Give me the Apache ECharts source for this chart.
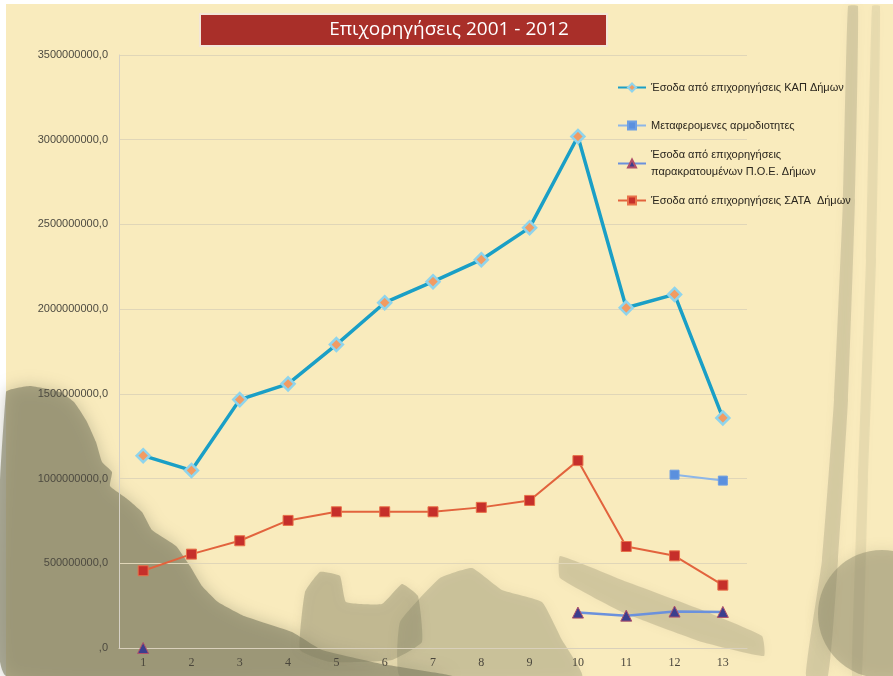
<!DOCTYPE html>
<html>
<head>
<meta charset="utf-8">
<script src="https://cdn.jsdelivr.net/npm/echarts@6/dist/echarts.min.js"></script>
<style>
  html, body { margin: 0; padding: 0; background: #fff; }
  #chart { width: 893px; height: 676px; }
</style>
</head>
<body>
<div id="chart"></div>
<script>
// categories 1..13 (years 2001 - 2012 in the original sheet)
const categories = ['1', '2', '3', '4', '5', '6', '7', '8', '9', '10', '11', '12', '13']

const kapValues = [1135000000, 1048000000, 1466000000, 1559000000, 1791000000, 2038000000, 2162000000,
  2292000000, 2481000000, 3019000000, 2008000000, 2087000000, 1358000000]
const metaferomenesValues = [null, null, null, null, null, null, null, null, null, null, null, 1023000000, 988000000]
const poeValues = [0, null, null, null, null, null, null, null, null, 209000000, 191000000, 215000000, 213000000]
const sataValues = [456000000, 554000000, 633000000, 753000000, 804000000, 804000000, 804000000,
  830000000, 871000000, 1106000000, 599000000, 544000000, 371000000]

const names = [
  'Έσοδα από επιχορηγήσεις ΚΑΠ Δήμων',
  'Μεταφερομενες αρμοδιοτητες',
  'Έσοδα από επιχορηγήσεις παρακρατουμένων Π.Ο.Ε. Δήμων',
  'Έσοδα από επιχορηγήσεις ΣΑΤΑ  Δήμων'
]

const ink = 'rgba(128,126,98,'
// background ink blotches (decoration only)
const blot = (points, a, blur) => ({
  type: 'polygon', silent: true, z: -50,
  shape: { points: points, smooth: 0.12 },
  style: { fill: ink + a + ')', shadowBlur: blur || 10, shadowColor: ink + a + ')' }
})

const legendText = { fontFamily: 'Liberation Sans', fontSize: 11, color: '#29251d' }
const mkLegend = (name, top, extra) => Object.assign({
  data: [name], left: 612, top: top, orient: 'vertical',
  itemWidth: 28, itemHeight: 10, itemGap: 0,
  textStyle: Object.assign({}, legendText)
}, extra || {})

const chart = echarts.init(document.getElementById('chart'))
const option = {
  backgroundColor: '#fff',
  animation: false,
  graphic: [
    { type: 'rect', silent: true, z: -100, shape: { x: 6, y: 4, width: 887, height: 672 }, style: { fill: '#f9ebbd' } },
    blot([[6, 392], [30, 386], [60, 392], [74, 402], [86, 420], [96, 442], [102, 462], [112, 472], [110, 486],
      [126, 498], [142, 512], [152, 530], [176, 546], [190, 566], [202, 586], [218, 602], [244, 616],
      [292, 632], [322, 650], [382, 664], [452, 676], [6, 676]], 0.62, 16),
    blot([[305, 592], [320, 572], [340, 576], [346, 602], [382, 604], [402, 584], [418, 596], [422, 642],
      [392, 660], [330, 662], [300, 650]], 0.38, 10),
    blot([[400, 622], [440, 578], [472, 568], [502, 590], [542, 602], [562, 640], [582, 676], [400, 676]], 0.32, 12),
    blot([[560, 556], [622, 580], [702, 610], [762, 636], [764, 656], [702, 642], [622, 612], [560, 578]], 0.28, 10),
    blot([[848, 6], [858, 6], [855, 200], [848, 400], [838, 560], [828, 676], [806, 676], [822, 560], [834, 400], [843, 200]], 0.26, 8),
    blot([[872, 6], [880, 6], [876, 260], [868, 480], [862, 676], [852, 676], [858, 480], [866, 260]], 0.14, 8),
    { type: 'circle', silent: true, z: -50, shape: { cx: 882, cy: 614, r: 64 },
      style: { fill: ink + '0.42)', shadowBlur: 14, shadowColor: ink + '0.42)' } },
    // title box
    { type: 'rect', z: 10, shape: { x: 200, y: 14, width: 407, height: 32 },
      style: { fill: '#a92f29', stroke: '#f3e6d8', lineWidth: 2 } },
    { type: 'text', z: 11, x: 449, y: 30,
      style: { text: 'Επιχορηγήσεις 2001 - 2012', fill: '#fff', font: '19px "Open Sans"', align: 'center', verticalAlign: 'middle' } }
  ],
  legend: [
    mkLegend(names[0], 77),
    mkLegend(names[1], 115),
    mkLegend(names[2], 133, {
      formatter: () => 'Έσοδα από επιχορηγήσεις\nπαρακρατουμένων Π.Ο.Ε. Δήμων',
      textStyle: Object.assign({}, legendText, { lineHeight: 17, padding: [17, 0, 0, 0] })
    }),
    mkLegend(names[3], 190)
  ],
  grid: { left: 119, right: 146, top: 55, bottom: 28 },
  xAxis: {
    type: 'category',
    data: categories,
    boundaryGap: true,
    axisLine: { lineStyle: { color: '#d9d0bb' } },
    axisTick: { show: false },
    axisLabel: { color: '#4a463c', fontFamily: 'Liberation Serif', fontSize: 12, margin: 9 }
  },
  yAxis: {
    type: 'value',
    min: 0,
    max: 3500000000,
    interval: 500000000,
    axisLine: { show: true, lineStyle: { color: '#d6d1c6' } },
    axisTick: { show: false },
    splitLine: { lineStyle: { color: '#e0d6b8' } },
    axisLabel: {
      color: '#4d4a40', fontFamily: 'Liberation Sans', fontSize: 11, margin: 11,
      formatter: v => (v === 0 ? '' : String(v)) + ',0'
    }
  },
  series: [
    {
      name: names[0], type: 'line', data: kapValues, z: 5,
      lineStyle: { color: '#1a9fc6', width: 3.5 },
      symbol: 'diamond', symbolSize: 13,
      itemStyle: { color: '#f29b62', borderColor: '#8fd4ec', borderWidth: 2.5 }
    },
    {
      name: names[1], type: 'line', data: metaferomenesValues, connectNulls: false,
      lineStyle: { color: '#8db6e8', width: 2 },
      symbol: 'rect', symbolSize: 9,
      itemStyle: { color: '#5b90de', borderColor: '#6f9fe2', borderWidth: 1 }
    },
    {
      name: names[2], type: 'line', data: poeValues, connectNulls: false,
      lineStyle: { color: '#6b91dc', width: 2.5 },
      symbol: 'triangle', symbolSize: 11,
      itemStyle: { color: '#3b3e8e', borderColor: '#b0506a', borderWidth: 1 }
    },
    {
      name: names[3], type: 'line', data: sataValues,
      lineStyle: { color: '#e2633d', width: 2 },
      symbol: 'rect', symbolSize: 10,
      itemStyle: { color: '#c62f2a', borderColor: '#e8714a', borderWidth: 1 }
    }
  ]
}
chart.setOption(option)
</script>
</body>
</html>
